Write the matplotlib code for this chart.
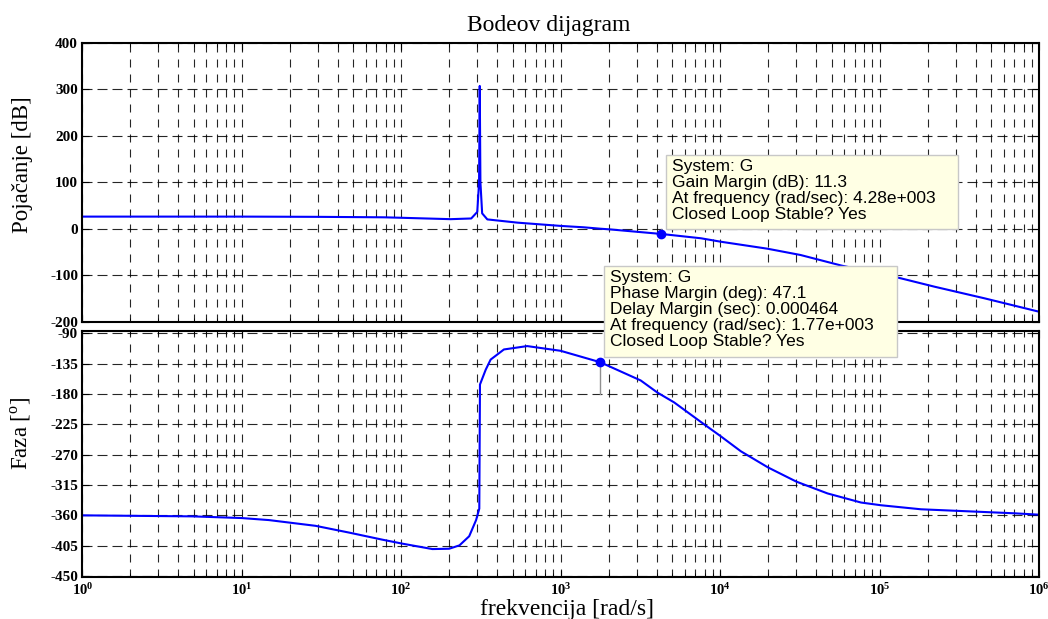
import matplotlib
matplotlib.use('Agg')
import matplotlib.pyplot as plt
from matplotlib.patches import Rectangle
from matplotlib.ticker import FixedLocator, LogLocator, NullFormatter

plt.rcParams['mathtext.fontset'] = 'custom'
plt.rcParams['mathtext.rm'] = 'Liberation Serif'
plt.rcParams['mathtext.bf'] = 'Liberation Serif:bold'

# amplitude curve
mag_freq = [1, 10, 30, 78, 100, 204, 275, 300, 308, 311, 314, 322, 347, 537,
            1000, 1396, 1770, 2042, 4280, 7590, 10100, 19800, 32000, 57200,
            136000, 221000, 455000, 1000000]
mag_db = [26, 26, 25.5, 24.5, 23.5, 20.5, 22, 36, 100, 307, 100, 33, 20, 13,
          6, 3, 0, -1.5, -11.3, -20.6, -28, -43, -56.6, -79,
          -106.7, -124.7, -149.7, -178.5]

# phase curve
phase_freq = [1, 4.9, 10, 14.8, 29, 47, 76, 102, 157, 200, 232, 267, 295, 309, 312,
              339, 364, 441, 617, 1000, 1770, 3180, 4050, 5150, 7940, 10000,
              13500, 20000, 30100, 47200, 76600, 102000, 182000, 708000, 1000000]
phase_deg = [-360, -361.5, -364, -367, -375.5, -385.5, -396, -402, -410, -409.5, -404.5,
             -391, -367, -350, -166,
             -144, -129, -114, -109, -116, -132.9, -160, -178, -192.5, -225, -242,
             -265, -289, -310, -327.5, -341, -345, -351, -357, -359]

gm_freq, gm_db = 4280, -11.3
pm_freq, pm_deg = 1770, -132.9

mag_ticks = [-200, -100, 0, 100, 200, 300, 400]
phase_ticks = [-450, -405, -360, -315, -270, -225, -180, -135, -90]
decades = [0, 1, 2, 3, 4, 5, 6]

gm_text = ('System: G\nGain Margin (dB): 11.3\n'
           'At frequency (rad/sec): 4.28e+003\nClosed Loop Stable? Yes')
pm_text = ('System: G\nPhase Margin (deg): 47.1\nDelay Margin (sec): 0.000464\n'
           'At frequency (rad/sec): 1.77e+003\nClosed Loop Stable? Yes')

W, H = 1048, 619
fig = plt.figure(figsize=(W / 100, H / 100), dpi=100)
ax1 = fig.add_axes([0.0785, 0.4803, 0.9129, 0.4507])
ax2 = fig.add_axes([0.0785, 0.0683, 0.9129, 0.3970])

ax1.plot(mag_freq, mag_db, color='#0000ff', lw=1.5)
ax2.plot(phase_freq, phase_deg, color='#0000ff', lw=1.5)

# margin markers
ax1.plot([gm_freq, gm_freq], [gm_db, 0], color='#909090', lw=1)
ax1.plot(gm_freq, gm_db, 'o', color='#0000ff', ms=6)
ax2.plot([pm_freq, pm_freq], [pm_deg, -180], color='#909090', lw=1)
ax2.plot(pm_freq, pm_deg, 'o', color='#0000ff', ms=6)

for ax in (ax1, ax2):
    ax.set_xscale('log')
    ax.set_xlim(1, 1e6)
    ax.xaxis.set_major_locator(FixedLocator([10.0 ** d for d in decades]))
    ax.xaxis.set_minor_locator(LogLocator(base=10, subs=range(2, 10), numticks=20))
    ax.xaxis.set_minor_formatter(NullFormatter())
    ax.grid(True, which='both', axis='x', color='k', lw=0.8, ls=(0, (7.2, 6.3)), alpha=0.85)
    ax.grid(True, which='major', axis='y', color='k', lw=0.8, ls=(0, (9, 4.5)), alpha=0.85)
    ax.tick_params(which='both', direction='in', top=True, right=True)
    ax.tick_params(which='major', length=5, pad=3)
    ax.tick_params(which='minor', length=3)
    for s in ax.spines.values():
        s.set_linewidth(1.5)

ax1.set_ylim(-200, 400)
ax1.set_yticks(mag_ticks)
ax1.set_yticklabels([str(t) for t in mag_ticks], fontweight='bold',
                    family='Liberation Serif', fontsize=11)
ax1.tick_params(labelbottom=False)

ax2.set_ylim(-451, -86.6)
ax2.set_yticks(phase_ticks)
ax2.set_yticklabels([str(t) for t in phase_ticks], fontweight='bold',
                    family='Liberation Serif', fontsize=11)
ax2.set_xticklabels([r'$\mathbf{10^{%d}}$' % d for d in decades], fontsize=10.5)
ax2.tick_params(axis='x', which='major', pad=4)

fig.text(549 / W, 1 - 30.7 / H, 'Bodeov dijagram', family='Liberation Serif',
         fontsize=17, ha='center', va='baseline')
ax1.set_ylabel('Pojačanje [dB]', family='Liberation Serif', fontsize=16.5)
ax2.set_ylabel(r'Faza [$^{\mathrm{o}}$]', family='Liberation Serif', fontsize=16.5)
ax1.yaxis.set_label_coords(-0.0516, 0.562)
ax2.yaxis.set_label_coords(-0.0516, 0.585)
fig.text(567 / W, 1 - 614.5 / H, 'frekvencija [rad/s]', family='Liberation Serif',
         fontsize=17, ha='center', va='baseline')

# data tips
for (x0, y0, x1, y1), txt in [((666, 155, 958, 229), gm_text),
                              ((604, 266, 897, 357), pm_text)]:
    rect = Rectangle((x0 / W, 1 - y1 / H), (x1 - x0) / W, (y1 - y0) / H,
                     transform=fig.transFigure, facecolor='#ffffe4',
                     edgecolor='#c8c8c8', lw=1, zorder=5)
    fig.add_artist(rect)
    fig.text((x0 + 6) / W, 1 - (y0 + 4) / H, txt, va='top', ha='left',
             family='Liberation Sans', fontsize=12.5, linespacing=1.08, zorder=6)

plt.savefig('out.png', dpi=100)
plt.close(fig)
